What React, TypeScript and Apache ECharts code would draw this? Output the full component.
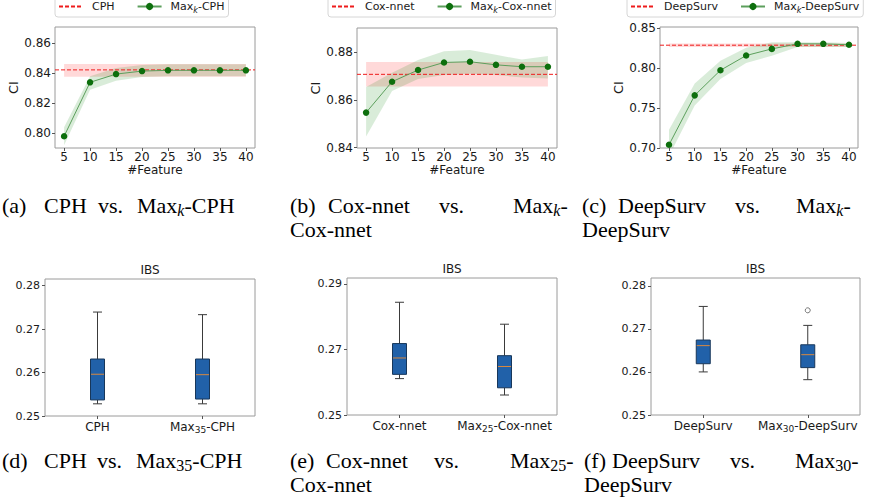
import { useEffect, useRef } from 'react';
import * as echarts from 'echarts';

// ---------- data ----------
const FEATURES = [5, 10, 15, 20, 25, 30, 35, 40];
const X_TICKS = [5, 10, 15, 20, 25, 30, 35, 40];

const CPH_BASE = 0.8423;
const CPH_BASE_BAND = [0.8378, 0.8463];
const CPH_MAXK = [0.798, 0.834, 0.8395, 0.8415, 0.842, 0.842, 0.842, 0.842];
const CPH_MAXK_LO = [0.792, 0.829, 0.835, 0.8375, 0.838, 0.838, 0.838, 0.838];
const CPH_MAXK_HI = [0.804, 0.838, 0.8435, 0.8455, 0.846, 0.846, 0.846, 0.846];
const CPH_Y_TICKS = [0.8, 0.82, 0.84, 0.86];

const COX_BASE = 0.8708;
const COX_BASE_BAND = [0.8657, 0.876];
const COX_MAXK = [0.8547, 0.8677, 0.8726, 0.8758, 0.8761, 0.8748, 0.874, 0.874];
const COX_MAXK_LO = [0.8446, 0.8638, 0.8688, 0.8705, 0.871, 0.8705, 0.8695, 0.869];
const COX_MAXK_HI = [0.8655, 0.8715, 0.8768, 0.8805, 0.881, 0.879, 0.877, 0.8785];
const COX_Y_TICKS = [0.84, 0.86, 0.88];

const DS_BASE = 0.8283;
const DS_BASE_BAND = [0.826, 0.8305];
const DS_MAXK = [0.704, 0.7657, 0.797, 0.8154, 0.8237, 0.83, 0.83, 0.8288];
const DS_MAXK_LO = [0.69, 0.7529, 0.786, 0.806, 0.815, 0.826, 0.826, 0.826];
const DS_MAXK_HI = [0.7229, 0.7804, 0.809, 0.825, 0.832, 0.832, 0.832, 0.831];
const DS_Y_TICKS = [0.7, 0.75, 0.8, 0.85];

// boxplots: [min, Q1, median, Q3, max]
const IBS_CPH_CATS = ['CPH', 'Max_{35}-CPH'];
const IBS_CPH = [
  [0.2528, 0.2537, 0.2596, 0.2631, 0.2739],
  [0.2528, 0.2539, 0.2595, 0.2631, 0.2733],
];
const IBS_CPH_TICKS = [0.25, 0.26, 0.27, 0.28];

const IBS_COX_CATS = ['Cox-nnet', 'Max_{25}-Cox-nnet'];
const IBS_COX = [
  [0.2611, 0.2624, 0.2674, 0.2718, 0.2844],
  [0.2561, 0.2583, 0.2648, 0.2681, 0.2777],
];
const IBS_COX_TICKS = [0.25, 0.27, 0.29];

const IBS_DS_CATS = ['DeepSurv', 'Max_{30}-DeepSurv'];
const IBS_DS = [
  [0.26, 0.2619, 0.2661, 0.2674, 0.2752],
  [0.2582, 0.261, 0.264, 0.2663, 0.2708],
];
const IBS_DS_OUTLIERS = [[1, 0.2743]];
const IBS_DS_TICKS = [0.25, 0.26, 0.27, 0.28];

// ---------- styling helpers ----------
const SANS = "'DejaVu Sans', sans-serif";
const SERIF = "'Liberation Serif', serif";
const TXT = '#1a1a1a';

function richStyles(size: number, family: string, lh: number, color = TXT) {
  const ss = Math.round(size * 0.72);
  return {
    m: { fontSize: size, fontFamily: family, lineHeight: lh, color },
    s: { fontSize: ss, fontFamily: family, lineHeight: ss, verticalAlign: 'bottom', color },
    si: { fontSize: ss, fontFamily: family, lineHeight: ss, verticalAlign: 'bottom', fontStyle: 'italic', color },
  };
}
function toRich(str: string): string {
  const parts = str.split(/_\{([^}]*)\}/);
  let out = '';
  parts.forEach((p, i) => {
    if (!p) return;
    if (i % 2 === 1) out += /^[a-z]+$/.test(p) ? `{si|${p}}` : `{s|${p}}`;
    else out += `{m|${p}}`;
  });
  return out;
}

const TOP_GRIDS = [
  { left: 55, top: 27, width: 200, height: 121 },
  { left: 357, top: 28, width: 200, height: 120 },
  { left: 660, top: 27, width: 198, height: 121 },
];
const BOT_GRIDS = [
  { left: 45, top: 279, width: 210, height: 137 },
  { left: 347, top: 278, width: 210, height: 137 },
  { left: 651, top: 278, width: 209, height: 137 },
];
const LEGEND_LEFT = [55, 328, 627];

const TOP_PANELS = [
  { base: 'CPH', maxk: 'Max_{k}-CPH', b: CPH_BASE, band: CPH_BASE_BAND, m: CPH_MAXK, lo: CPH_MAXK_LO, hi: CPH_MAXK_HI, ticks: CPH_Y_TICKS, yMin: 0.7902, yMax: 0.8709 },
  { base: 'Cox-nnet', maxk: 'Max_{k}-Cox-nnet', b: COX_BASE, band: COX_BASE_BAND, m: COX_MAXK, lo: COX_MAXK_LO, hi: COX_MAXK_HI, ticks: COX_Y_TICKS, yMin: 0.8398, yMax: 0.8903 },
  { base: 'DeepSurv', maxk: 'Max_{k}-DeepSurv', b: DS_BASE, band: DS_BASE_BAND, m: DS_MAXK, lo: DS_MAXK_LO, hi: DS_MAXK_HI, ticks: DS_Y_TICKS, yMin: 0.7, yMax: 0.851 },
];
const BOT_PANELS = [
  { cats: IBS_CPH_CATS, boxes: IBS_CPH, ticks: IBS_CPH_TICKS, yMax: 0.2815, outliers: [] as number[][] },
  { cats: IBS_COX_CATS, boxes: IBS_COX, ticks: IBS_COX_TICKS, yMax: 0.2918, outliers: [] as number[][] },
  { cats: IBS_DS_CATS, boxes: IBS_DS, ticks: IBS_DS_TICKS, yMax: 0.2818, outliers: IBS_DS_OUTLIERS },
];

// caption pieces: [text, x, y]
const CAPTIONS: [string, number, number][] = [
  ['(a)', 2, 205], ['CPH', 44, 205], ['vs.', 98, 205], ['Max_{k}-CPH', 137, 205],
  ['(b)', 290, 205], ['Cox-nnet', 328, 205], ['vs.', 439, 205], ['Max_{k}-', 513, 205], ['Cox-nnet', 290, 229],
  ['(c)', 582, 205], ['DeepSurv', 618, 205], ['vs.', 735, 205], ['Max_{k}-', 796, 205], ['DeepSurv', 582, 229],
  ['(d)', 2, 460], ['CPH', 44, 460], ['vs.', 97, 460], ['Max_{35}-CPH', 136, 460],
  ['(e)', 290, 460], ['Cox-nnet', 326, 460], ['vs.', 434, 460], ['Max_{25}-', 510, 460], ['Cox-nnet', 290, 484],
  ['(f)', 584, 460], ['DeepSurv', 612, 460], ['vs.', 730, 460], ['Max_{30}-', 795, 460], ['DeepSurv', 584, 484],
];

function buildOption() {
  const grid: any[] = [];
  const xAxis: any[] = [];
  const yAxis: any[] = [];
  const series: any[] = [];
  const legend: any[] = [];
  const graphic: any[] = [];

  const axisCommon = {
    axisLine: { show: false },
    axisTick: { show: true, length: 3, lineStyle: { color: '#555', width: 1 } },
    splitLine: { show: false },
  };

  TOP_PANELS.forEach((p, i) => {
    grid.push({ ...TOP_GRIDS[i], show: true, borderColor: '#9a9a9a', borderWidth: 1, backgroundColor: 'transparent' });
    xAxis.push({
      ...axisCommon,
      type: 'value', gridIndex: i, min: 3.25, max: 41.75,
      axisTick: { ...axisCommon.axisTick, customValues: X_TICKS },
      axisLabel: { customValues: X_TICKS, fontSize: 12, fontFamily: SANS, color: TXT, margin: 3 },
      name: '#Feature', nameLocation: 'middle', nameGap: 15,
      nameTextStyle: { fontSize: 12, fontFamily: SANS, color: TXT },
    });
    yAxis.push({
      ...axisCommon,
      type: 'value', gridIndex: i, min: p.yMin, max: p.yMax,
      axisTick: { ...axisCommon.axisTick, customValues: p.ticks },
      axisLabel: { customValues: p.ticks, fontSize: 12, fontFamily: SANS, color: TXT, margin: 4, formatter: (v: number) => v.toFixed(2) },
      name: 'CI', nameLocation: 'middle', nameGap: 30,
      nameTextStyle: { fontSize: 13, fontFamily: SANS, color: TXT },
    });
    // baseline band
    series.push({
      type: 'custom', xAxisIndex: i, yAxisIndex: i, silent: true, clip: true, z: 1,
      data: [[FEATURES[0], p.band[0], p.band[1], FEATURES[FEATURES.length - 1]]],
      encode: { x: [0, 3], y: [1, 2] },
      renderItem: (_params: any, api: any) => {
        const a = api.coord([api.value(0), api.value(2)]);
        const b = api.coord([api.value(3), api.value(1)]);
        return { type: 'rect', shape: { x: a[0], y: a[1], width: b[0] - a[0], height: b[1] - a[1] }, style: { fill: 'rgba(255,0,0,0.15)' } };
      },
    });
    // Max_k band
    series.push({
      type: 'custom', xAxisIndex: i, yAxisIndex: i, silent: true, clip: true, z: 2,
      data: FEATURES.map((f, j) => [f, p.lo[j], p.hi[j]]),
      encode: { x: 0, y: [1, 2] },
      renderItem: (params: any, api: any) => {
        if (params.dataIndexInside !== 0) return null;
        const n = params.dataInsideLength;
        const up: number[][] = [];
        const dn: number[][] = [];
        for (let j = 0; j < n; j++) {
          up.push(api.coord([api.value(0, j), api.value(2, j)]));
          dn.push(api.coord([api.value(0, j), api.value(1, j)]));
        }
        return { type: 'polygon', shape: { points: up.concat(dn.reverse()) }, style: { fill: 'rgba(0,128,0,0.15)' } };
      },
    });
    series.push({
      type: 'line', name: p.base, xAxisIndex: i, yAxisIndex: i, z: 3,
      data: [[3.25, p.b], [41.75, p.b]], symbol: 'none',
      lineStyle: { color: '#ee1c1c', width: 1, type: [4, 2] }, itemStyle: { color: '#ee1c1c' },
    });
    series.push({
      type: 'line', name: p.maxk, xAxisIndex: i, yAxisIndex: i, z: 4,
      data: FEATURES.map((f, j) => [f, p.m[j]]),
      symbol: 'circle', symbolSize: 6.5,
      lineStyle: { color: '#5c9f5c', width: 1 }, itemStyle: { color: '#0d6f0d' },
    });
    legend.push({
      data: [{ name: p.base, itemStyle: { opacity: 0 } }, { name: p.maxk }],
      left: LEGEND_LEFT[i], top: -3,
      orient: 'horizontal', itemWidth: 24, itemHeight: 9, itemGap: 22,
      padding: [4, 4, 3, 3], borderColor: '#d6d6d6', borderWidth: 1, borderRadius: 3,
      backgroundColor: '#fff',
      formatter: (name: string) => toRich(name),
      textStyle: { padding: [0, 0, 0, 4], rich: richStyles(11, SANS, 15) },
    });
  });

  BOT_PANELS.forEach((p, k) => {
    const i = k + 3;
    const g = BOT_GRIDS[k];
    grid.push({ ...g, show: true, borderColor: '#9a9a9a', borderWidth: 1, backgroundColor: 'transparent' });
    xAxis.push({
      ...axisCommon,
      type: 'category', gridIndex: i, data: p.cats,
      axisTick: { ...axisCommon.axisTick, alignWithLabel: true, interval: 0 },
      axisLabel: { margin: 3, interval: 0, hideOverlap: false, formatter: (v: string) => toRich(v), rich: richStyles(12, SANS, 15) },
    });
    yAxis.push({
      ...axisCommon,
      type: 'value', gridIndex: i, min: 0.25, max: p.yMax,
      axisTick: { ...axisCommon.axisTick, customValues: p.ticks },
      axisLabel: { customValues: p.ticks, fontSize: 11, fontFamily: SANS, color: TXT, margin: 5, formatter: (v: number) => v.toFixed(2) },
    });
    series.push({
      type: 'custom', xAxisIndex: i, yAxisIndex: i, silent: true,
      data: p.boxes.map((b, j) => [j, ...b]),
      encode: { x: 0, y: [1, 2, 3, 4, 5] },
      renderItem: (_params: any, api: any) => {
        const x = api.value(0);
        const c = (d: number) => api.coord([x, api.value(d)]);
        const pMin = c(1), pQ1 = c(2), pMed = c(3), pQ3 = c(4), pMax = c(5);
        const cx = pMin[0];
        const bw = 14, cw = 9;
        const ws = { stroke: '#3a3a3a', lineWidth: 1 };
        return {
          type: 'group',
          children: [
            { type: 'line', shape: { x1: cx, y1: pMax[1], x2: cx, y2: pQ3[1] }, style: ws },
            { type: 'line', shape: { x1: cx, y1: pQ1[1], x2: cx, y2: pMin[1] }, style: ws },
            { type: 'line', shape: { x1: cx - cw / 2, y1: pMax[1], x2: cx + cw / 2, y2: pMax[1] }, style: ws },
            { type: 'line', shape: { x1: cx - cw / 2, y1: pMin[1], x2: cx + cw / 2, y2: pMin[1] }, style: ws },
            { type: 'rect', shape: { x: cx - bw / 2, y: pQ3[1], width: bw, height: pQ1[1] - pQ3[1] }, style: { fill: '#2161a9', stroke: '#18375a', lineWidth: 1 } },
            { type: 'line', shape: { x1: cx - bw / 2 + 0.5, y1: pMed[1], x2: cx + bw / 2 - 0.5, y2: pMed[1] }, style: { stroke: '#d9883f', lineWidth: 1 } },
          ],
        };
      },
    });
    if (p.outliers.length) {
      series.push({
        type: 'scatter', xAxisIndex: i, yAxisIndex: i, data: p.outliers, symbol: 'circle', symbolSize: 5,
        itemStyle: { color: '#fff', borderColor: '#555', borderWidth: 1 }, silent: true,
      });
    }
    graphic.push({
      type: 'text', x: g.left + g.width / 2, y: g.top - 9,
      style: { text: 'IBS', fontSize: 12, fontFamily: SANS, fill: TXT, align: 'center', verticalAlign: 'middle' },
    });
  });

  CAPTIONS.forEach(([t, x, y]) => {
    graphic.push({
      type: 'text', x, y,
      style: { text: toRich(t), rich: richStyles(22, SERIF, 26, '#000'), align: 'left', verticalAlign: 'middle' },
    });
  });

  return {
    animation: false,
    backgroundColor: '#fff',
    grid, xAxis, yAxis, series, legend, graphic,
  };
}

export default function App() {
  const ref = useRef<HTMLDivElement>(null);
  useEffect(() => {
    if (!ref.current) return;
    const chart = echarts.init(ref.current, undefined, { renderer: 'svg' });
    chart.setOption(buildOption() as any);
    return () => chart.dispose();
  }, []);
  return <div ref={ref} style={{ position: 'fixed', left: 0, top: 0, width: 870, height: 499, background: '#fff' }} />;
}
